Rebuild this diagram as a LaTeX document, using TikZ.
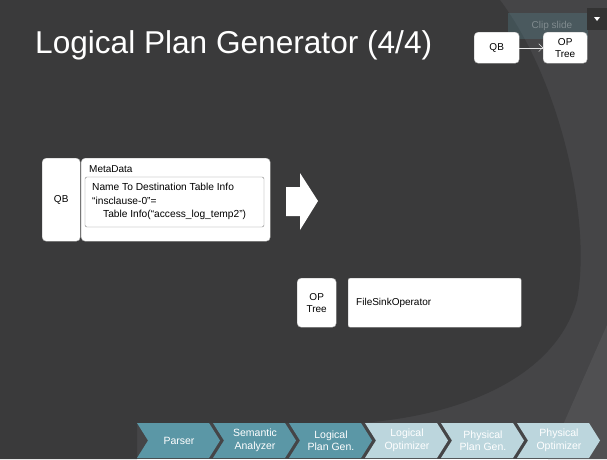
\documentclass[tikz,border=0pt]{standalone}
\usepackage{fontspec}
\setmainfont{Liberation Sans}
\usetikzlibrary{arrows.meta}
\definecolor{bgdark}{HTML}{3A3A3B}
\definecolor{bgout}{HTML}{454547}
\definecolor{bglow}{HTML}{505052}
\definecolor{stagedark}{HTML}{5B97A6}
\definecolor{stagelight}{HTML}{BCD6DD}
\definecolor{boxline}{HTML}{B8B8B8}
\begin{document}
\begin{tikzpicture}[x=1pt,y=-1pt,
    box/.style={draw=boxline, fill=white, rounded corners=4pt, align=center,
        font=\fontsize{10}{12}\selectfont, inner sep=0pt, anchor=north west},
    stage/.style={text=white, align=center, font=\fontsize{10.5}{12.5}\selectfont}]
        \useasboundingbox (0,0) rectangle (607,459);
        % background
        \fill[bgout] (0,0) rectangle (607,459);
        \fill[bglow] (607,325) -- (548,459) -- (607,459) -- cycle;
        \fill[bgdark] (0,0) -- (500,0) .. controls (560,80) and (592,220) .. (577,300)
            .. controls (555,378) and (460,416) .. (360,423) -- (137,423) -- (137,459) -- (0,459) -- cycle;
        % clip slide overlay
        \fill[stagedark, opacity=0.25] (508,13) rectangle (588,39);
        \node[text=white, opacity=0.3, font=\fontsize{10}{12}\selectfont] (clip) at (552,26) {Clip slide};
        \fill[black!80] (587,8) rectangle (607,30);
        \fill[white] (594,17) -- (600,17) -- (597,21) -- cycle;
        % title
        \node[anchor=base west, text=white, font=\fontsize{31.6}{36}\selectfont, inner sep=0pt] (title) at (35,53) {Logical Plan Generator (4/4)};
        % top right
        \node[box, minimum width=45pt, minimum height=31pt] (qbs) at (474,32) {QB};
        \node[box, minimum width=44pt, minimum height=31pt] (ops) at (543,32) {OP\\Tree};
        \draw[-{Straight Barb[length=4pt]}, white!80!gray, thin] (qbs) -- (ops);
        % query block
        \node[box, minimum width=38pt, minimum height=83pt] (qb) at (42,158) {QB};
        \node[box, minimum width=189pt, minimum height=83pt] (meta) at (81,158) {};
        \node[anchor=base west, font=\fontsize{10}{12}\selectfont, inner sep=0pt] (metalbl) at (89,172) {MetaData};
        \draw[gray, fill=white, rounded corners=2pt] (85,177) rectangle (264,227);
        \node[anchor=north west, align=left, inner sep=0pt, font=\fontsize{10.2}{13.5}\selectfont] (dest) at (92,183)
            {Name To Destination Table Info\\``insclause-0''=\\\hspace{11pt}Table Info(``access\_log\_temp2'')};
        % big arrow
        \fill[white] (286,187) -- (300,187) -- (300,173) -- (318,201) -- (300,230) -- (300,216) -- (286,216) -- cycle;
        % op tree
        \node[box, minimum width=39pt, minimum height=49pt] (opt) at (297,278) {OP\\Tree};
        \node[box, rounded corners=2pt, minimum width=173pt, minimum height=49pt] (fso) at (348,278) {};
        \node[anchor=west, font=\fontsize{10}{12}\selectfont, inner sep=0pt] (fsolbl) at (356,302.5) {FileSinkOperator};
        % stages
        \foreach \x/\txt/\col [count=\i] in {137/Parser/stagedark, 213/{Semantic\\Analyzer}/stagedark,
            289/{Logical\\Plan Gen.}/stagedark, 365/{Logical\\Optimizer}/stagelight,
            441/{Physical\\Plan Gen.}/stagelight, 517/{Physical\\Optimizer}/stagelight}{
            \fill[\col] (\x,423) -- ++(72,0) -- ++(11,17.5) -- ++(-11,17.5) -- ++(-72,0) -- ++(11,-17.5) -- cycle;
            \node[stage] (st\i) at (\x+42,440.5) {\txt};
        }
\end{tikzpicture}
\end{document}
